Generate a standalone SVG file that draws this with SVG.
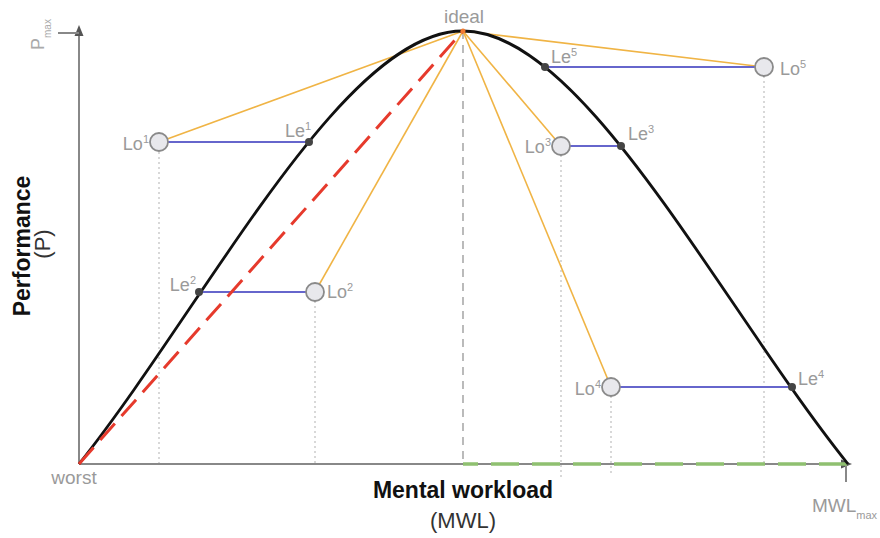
<svg xmlns="http://www.w3.org/2000/svg" width="880" height="538" viewBox="0 0 880 538">
<style>
.lbl{font-family:"Liberation Sans",Arial,sans-serif;font-size:18px;fill:#9a9a9a}
.sup{font-size:11px}
.lo{fill:#e8e8ec;stroke:#8a8a8a;stroke-width:1.8}
.le{fill:#444}
.blue{stroke:#6666cc;stroke-width:2}
.orange{stroke:#f0b445;stroke-width:1.6}
.dot{stroke:#cfcfcf;stroke-width:1.6;stroke-dasharray:2 3}
.axis{stroke:#888;stroke-width:2;fill:none}
.title{font-family:"Liberation Sans",Arial,sans-serif;font-size:23px;fill:#111;font-weight:bold}
.sub{font-family:"Liberation Sans",Arial,sans-serif;font-size:22px;fill:#333}
</style>
<rect width="880" height="538" fill="#fff"/>
<g id="connectors">
  <line class="dot" x1="159" y1="152" x2="159" y2="464"/>
  <line class="dot" x1="315" y1="301" x2="315" y2="464"/>
  <line class="dot" x1="561" y1="155" x2="561" y2="480"/>
  <line class="dot" x1="611" y1="396" x2="611" y2="474"/>
  <line class="dot" x1="764" y1="76" x2="764" y2="464"/>
  <line x1="463" y1="31" x2="463" y2="464" stroke="#aaa" stroke-width="1.6" stroke-dasharray="8 6"/>
  <line class="axis" x1="79" y1="464" x2="79" y2="34"/>
  <polygon points="79,25 74.5,36 83.5,36" fill="#555"/>
  <line class="axis" x1="58" y1="33" x2="79" y2="33"/>
  <line class="axis" x1="79" y1="464" x2="843" y2="464"/>
  <polygon points="852,464 841,459.5 841,468.5" fill="#555"/>
  <line class="axis" x1="846" y1="464" x2="846" y2="482"/>
  <line x1="463" y1="464" x2="848" y2="464" stroke="#8fc070" stroke-width="3.5" stroke-dasharray="28 13" stroke-dashoffset="13"/>
  <line class="orange" x1="463" y1="31" x2="159" y2="142"/>
  <line class="orange" x1="463" y1="31" x2="315" y2="292"/>
  <line class="orange" x1="463" y1="31" x2="561" y2="146"/>
  <line class="orange" x1="463" y1="31" x2="611" y2="387"/>
  <line class="orange" x1="463" y1="31" x2="764" y2="67"/>
  <line class="blue" x1="159" y1="142" x2="309" y2="142"/>
  <line class="blue" x1="199" y1="292" x2="315" y2="292"/>
  <line class="blue" x1="561" y1="146" x2="621" y2="146"/>
  <line class="blue" x1="611" y1="387" x2="792" y2="387"/>
  <line class="blue" x1="545" y1="67" x2="764" y2="67"/>
  <path d="M79,464 C208,301.5 343,31 463,31 C583,31 718,301.5 848,464" fill="none" stroke="#111" stroke-width="2.8"/>
  <line x1="79" y1="464" x2="463" y2="31" stroke="#e63a2c" stroke-width="3" stroke-dasharray="22 10"/>
  <circle cx="463" cy="31" r="2.5" fill="#f07a30"/>
</g>
<g id="Lo1"><circle class="lo" cx="159" cy="142" r="9"/><text class="lbl" x="149" y="150" text-anchor="end">Lo<tspan class="sup" dy="-7">1</tspan></text></g>
<g id="Le1"><circle class="le" cx="309" cy="142" r="4"/><text class="lbl" x="285" y="137">Le<tspan class="sup" dy="-7">1</tspan></text></g>
<g id="Lo2"><circle class="lo" cx="315" cy="292" r="9"/><text class="lbl" x="327" y="298">Lo<tspan class="sup" dy="-7">2</tspan></text></g>
<g id="Le2"><circle class="le" cx="199" cy="292" r="4"/><text class="lbl" x="196" y="291" text-anchor="end">Le<tspan class="sup" dy="-7">2</tspan></text></g>
<g id="Lo3"><circle class="lo" cx="561" cy="146" r="9"/><text class="lbl" x="551" y="153" text-anchor="end">Lo<tspan class="sup" dy="-7">3</tspan></text></g>
<g id="Le3"><circle class="le" cx="621" cy="146" r="4"/><text class="lbl" x="628" y="140">Le<tspan class="sup" dy="-7">3</tspan></text></g>
<g id="Lo4"><circle class="lo" cx="611" cy="387" r="9"/><text class="lbl" x="601" y="395" text-anchor="end">Lo<tspan class="sup" dy="-7">4</tspan></text></g>
<g id="Le4"><circle class="le" cx="792" cy="387" r="4"/><text class="lbl" x="798" y="385">Le<tspan class="sup" dy="-7">4</tspan></text></g>
<g id="Lo5"><circle class="lo" cx="764" cy="67" r="9"/><text class="lbl" x="780" y="75">Lo<tspan class="sup" dy="-7">5</tspan></text></g>
<g id="Le5"><circle class="le" cx="545" cy="67" r="4"/><text class="lbl" x="551" y="63">Le<tspan class="sup" dy="-7">5</tspan></text></g>
<g id="labels">
  <text class="lbl" x="464" y="23" text-anchor="middle" style="font-size:19px">ideal</text>
  <text class="lbl" x="74" y="484" text-anchor="middle" style="font-size:19px">worst</text>
  <text class="lbl" x="812" y="512" style="font-size:19px">MWL<tspan style="font-size:11px" dy="7">max</tspan></text>
  <text class="lbl" transform="translate(44,50) rotate(-90)" style="font-size:18px;fill:#aaa">P<tspan style="font-size:10px" dy="7">max</tspan></text>
  <text class="title" x="463" y="498" text-anchor="middle">Mental workload</text>
  <text class="sub" x="463" y="528" text-anchor="middle">(MWL)</text>
  <text class="title" transform="translate(30,246) rotate(-90)" text-anchor="middle">Performance</text>
  <text class="sub" transform="translate(50,244) rotate(-90)" text-anchor="middle">(P)</text>
</g>
</svg>
